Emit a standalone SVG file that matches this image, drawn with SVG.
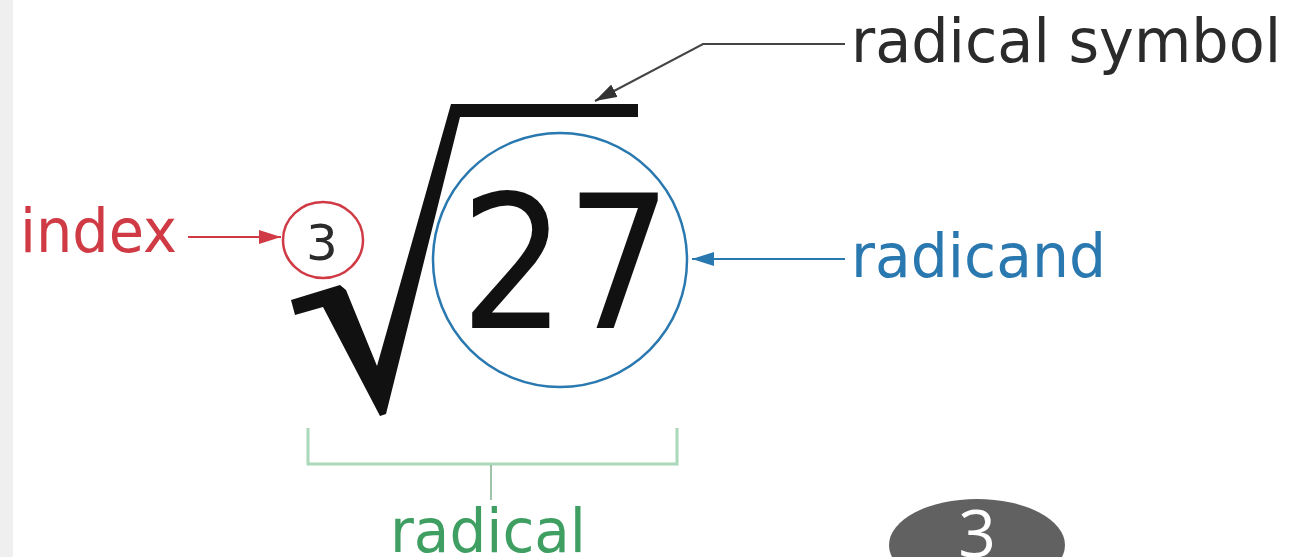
<svg xmlns="http://www.w3.org/2000/svg" width="1289" height="557" viewBox="0 0 1289 557">
<style>
.lbl{font-family:"DejaVu Sans","Liberation Sans",sans-serif;font-size:60px}
.red{fill:#cf3a44}
.blue{fill:#2a78b0}
.green{fill:#3f9f62}
.dark{fill:#2b2b2b}
</style>
<defs>
<marker id="ahRed" markerUnits="userSpaceOnUse" markerWidth="24" markerHeight="14" refX="22" refY="7" orient="auto">
<path d="M0,0 L22,7 L0,14 Z" fill="#cf3a44"/>
</marker>
<marker id="ahBlue" markerUnits="userSpaceOnUse" markerWidth="24" markerHeight="14" refX="22" refY="7" orient="auto">
<path d="M0,0 L22,7 L0,14 Z" fill="#2a78b0"/>
</marker>
<marker id="ahDark" markerUnits="userSpaceOnUse" markerWidth="24" markerHeight="14" refX="22" refY="7" orient="auto">
<path d="M0,0 L22,7 L0,14 Z" fill="#333"/>
</marker>
</defs>
<rect x="0" y="0" width="1289" height="557" fill="#ffffff"/>
<rect x="0" y="0" width="13" height="557" fill="#efefef"/>

<g id="radical-sign">
<polygon points="291,300 340,285 346,290 377,366 451,104 638,104 638,117 460,117 386,414 380,416 323,307 295,315" fill="#111"/>
</g>

<g id="radicand-node">
<circle cx="560" cy="260" r="127" fill="none" stroke="#2a78b0" stroke-width="2.5"/>
<text x="566" y="328" text-anchor="middle" font-family="DejaVu Sans, Liberation Sans, sans-serif" font-size="185" fill="#111" textLength="212" lengthAdjust="spacingAndGlyphs">27</text>
</g>

<g id="index-node">
<ellipse cx="323" cy="240" rx="40" ry="38" fill="none" stroke="#cf3a44" stroke-width="2.5"/>
<text x="322" y="260" text-anchor="middle" font-family="DejaVu Sans, Liberation Sans, sans-serif" font-size="50" class="dark">3</text>
</g>

<g id="label-index">
<text x="20" y="252" class="lbl red" textLength="157" lengthAdjust="spacingAndGlyphs">index</text>
</g>

<g id="label-radical-symbol">
<text x="851" y="62" class="lbl dark" textLength="430" lengthAdjust="spacingAndGlyphs">radical symbol</text>
</g>

<g id="label-radicand">
<text x="851" y="277" class="lbl blue" textLength="255" lengthAdjust="spacingAndGlyphs">radicand</text>
</g>

<g id="label-radical">
<text x="390" y="552" class="lbl green" textLength="196" lengthAdjust="spacingAndGlyphs">radical</text>
</g>

<g id="bracket">
<path d="M308,428 L308,464 L677,464 L677,428" fill="none" stroke="#a9d8ba" stroke-width="3"/>
<line x1="491" y1="465" x2="491" y2="500" stroke="#7fae8f" stroke-width="1.5"/>
</g>

<g id="badge">
<ellipse cx="977" cy="545" rx="88" ry="46" fill="#616161"/>
<text x="977" y="557" text-anchor="middle" font-family="Open Sans, DejaVu Sans, sans-serif" font-size="66" fill="#ffffff">3</text>
</g>

<g id="connectors">
<line x1="188" y1="237" x2="281" y2="237" stroke="#cf3a44" stroke-width="2" marker-end="url(#ahRed)"/>
<line x1="845" y1="259" x2="692" y2="259" stroke="#2a78b0" stroke-width="2" marker-end="url(#ahBlue)"/>
<polyline points="845,44 703,44 595,101" fill="none" stroke="#444" stroke-width="2" marker-end="url(#ahDark)"/>
</g>
</svg>
